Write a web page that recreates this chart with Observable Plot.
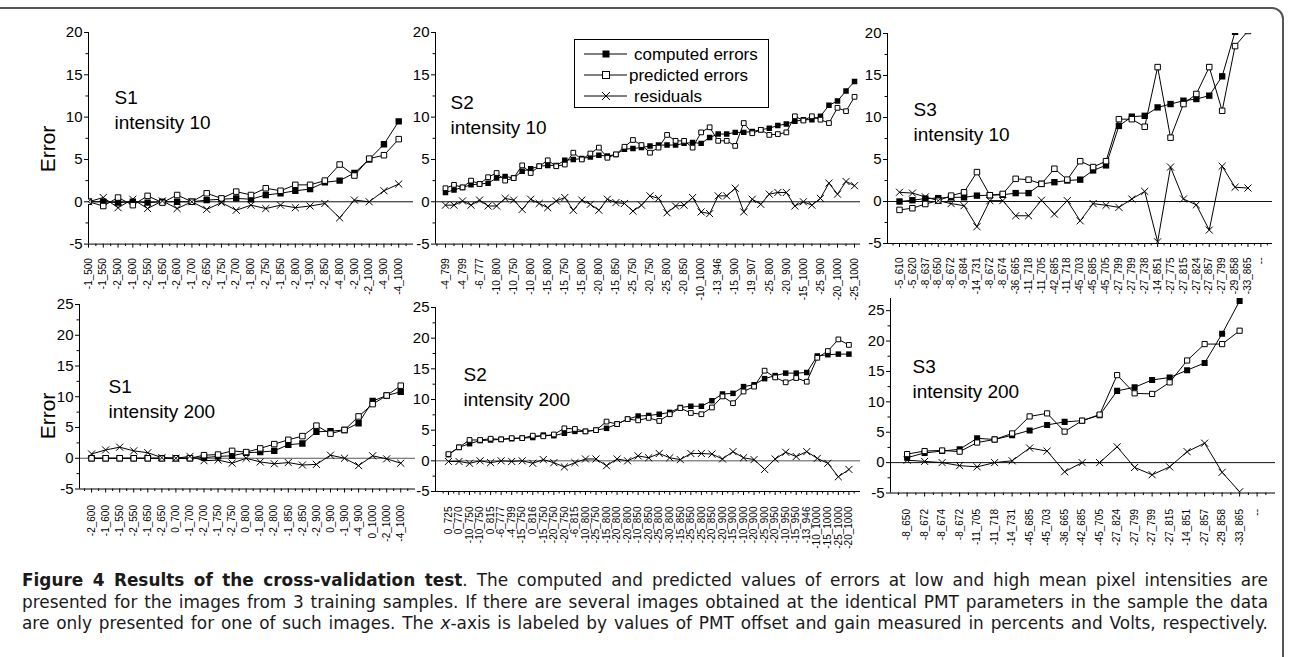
<!DOCTYPE html>
<html><head><meta charset="utf-8">
<script src="https://cdn.jsdelivr.net/npm/d3@7"></script>
<script src="https://cdn.jsdelivr.net/npm/@observablehq/plot@0.6"></script>
<style>
html,body{margin:0;padding:0;background:#fff;}
#fig{position:relative;width:1290px;height:657px;overflow:hidden;font-family:"Liberation Sans",Arial,sans-serif;}
.panel{position:absolute;}
#border{position:absolute;left:-12px;top:7px;width:1296px;height:700px;border:2px solid #555;border-radius:12px;box-sizing:border-box;}
.ytitle{position:absolute;font-size:21px;transform:translate(-50%,-50%) rotate(-90deg);white-space:nowrap;}
#caption{position:absolute;left:22px;top:570px;width:1246px;font-family:"DejaVu Sans",sans-serif;font-size:16.9px;line-height:21.5px;color:#1a1a1a;}
#caption .ln{white-space:nowrap;text-align:justify;text-align-last:justify;}
#caption b{font-weight:700;}
</style></head><body><div id="fig"><div id="border"></div></div>
<script>
// ---------- DATA ----------
const s1_10_labels = ["-1_500","-1_550","-2_500","-1_600","-2_550","-1_650","-2_600","-1_700","-2_650","-1_750","-2_700","-1_800","-2_750","-1_850","-2_800","-1_900","-2_850","-4_800","-2_900","-2_1000","-4_900","-4_1000"];
const s1_10_computed  = [0, 0, -0.1, 0, -0.1, 0, 0, 0, 0.2, 0.3, 0.4, 0.3, 0.8, 1.0, 1.3, 1.5, 2.3, 2.5, 3.4, 5.0, 6.8, 9.5];
const s1_10_predicted = [0, -0.5, 0.5, -0.4, 0.7, -0.1, 0.8, 0, 1.0, 0.4, 1.2, 0.8, 1.6, 1.3, 2.0, 2.0, 2.5, 4.4, 3.1, 5.1, 5.5, 7.4];
const s1_10_residuals = [0, 0.5, -0.7, 0.3, -0.8, 0.1, -0.8, 0, -0.9, -0.1, -1.0, -0.4, -0.8, -0.4, -0.7, -0.5, -0.2, -1.9, 0.2, 0, 1.3, 2.1];

const s2_10_labels = ["-4_799","-4_799","-6_777","-10_800","-10_750","-10_800","-15_800","-15_750","-15_800","-20_800","-15_850","-25_750","-20_750","-25_800","-20_850","-10_1000","-13_946","-15_900","-19_907","-25_800","-20_900","-15_1000","-25_900","-20_1000","-25_1000"];
const s2_10_computed  = [1.1, 1.4, 1.7, 2.0, 2.1, 2.2, 2.8, 3.0, 2.8, 3.6, 3.9, 4.2, 4.3, 4.3, 4.9, 5.0, 5.1, 5.3, 5.5, 5.4, 5.6, 6.2, 6.3, 6.4, 6.6, 6.7, 6.7, 6.7, 6.9, 7.0, 6.9, 7.6, 8.0, 8.0, 8.2, 8.2, 8.3, 8.5, 8.7, 9.0, 9.2, 9.5, 9.7, 9.7, 10.1, 11.4, 11.9, 13.1, 14.2];
const s2_10_predicted = [1.6, 2.0, 1.7, 2.5, 2.1, 2.9, 3.4, 2.5, 2.8, 4.3, 3.4, 4.2, 4.9, 4.2, 4.4, 5.8, 5.0, 5.7, 6.4, 5.2, 5.6, 6.5, 7.3, 6.7, 5.8, 6.4, 7.9, 7.2, 7.2, 6.4, 8.2, 8.8, 7.2, 7.2, 6.6, 9.3, 8.1, 8.5, 7.9, 8.0, 8.2, 10.1, 9.6, 10.1, 9.7, 9.3, 11.1, 10.7, 12.4];
const s2_10_residuals = [-0.4, -0.4, 0.1, -0.4, 0.2, -0.5, -0.5, 0.4, 0.2, -0.9, 0.3, -0.2, -0.7, 0.1, 0.5, -1.0, 0.2, -0.3, -1.0, 0.3, -0.1, -0.2, -1.1, -0.4, 0.7, 0.4, -1.3, -0.5, -0.4, 0.5, -1.2, -1.4, 0.7, 0.7, 1.6, -1.2, 0.3, -0.3, 0.9, 1.1, 1.1, -0.5, 0, -0.4, 0.4, 2.2, 0.9, 2.4, 1.9];

const s3_10_labels = ["-5_610","-5_620","-8_637","-8_650","-8_672","-9_684","-14_731","-8_672","-8_674","-36_665","-11_718","-11_705","-42_685","-11_718","-45_703","-45_685","-45_705","-27_799","-27_799","-27_738","-14_851","-27_775","-27_815","-27_824","-27_857","-27_799","-29_858","-33_865","--"];
const s3_10_computed  = [0, 0.15, 0.35, 0.4, 0.5, 0.5, 0.7, 0.75, 0.8, 1.0, 1.0, 2.1, 2.3, 2.5, 2.6, 3.7, 4.3, 9.0, 10.1, 10.2, 11.2, 11.6, 12.0, 12.2, 12.6, 14.9, 20.2, 21.9];
const s3_10_predicted = [-1.0, -0.8, -0.3, 0.1, 0.7, 1.1, 3.5, 0.75, 0.9, 2.7, 2.6, 2.1, 3.9, 2.6, 4.8, 4.1, 4.8, 9.8, 9.8, 8.9, 16.0, 7.6, 11.6, 12.8, 16.0, 10.8, 18.5, 20.3];
const s3_10_residuals = [1.1, 1.0, 0.55, 0.1, -0.25, -0.5, -3.0, 0.1, 0.1, -1.7, -1.7, 0.15, -1.5, 0.1, -2.3, -0.25, -0.45, -0.7, 0.3, 1.2, -4.8, 4.1, 0.3, -0.4, -3.4, 4.2, 1.7, 1.6];

const s1_200_labels = ["-2_600","-1_600","-1_550","-2_550","-1_650","-2_650","0_700","-1_700","-2_700","-1_750","-2_750","0_800","-1_800","-2_800","-1_850","-2_850","-2_900","0_900","-1_900","-4_900","0_1000","-2_1000","-4_1000"];
const s1_200_computed  = [0, 0, 0, 0, 0, 0, 0, 0, 0.1, 0.3, 0.4, 0.9, 1.0, 1.2, 2.2, 2.4, 4.3, 4.4, 4.6, 5.7, 9.3, 10.2, 10.8];
const s1_200_predicted = [0, 0, 0, 0, 0, 0, 0, 0, 0.5, 0.6, 1.2, 1.0, 1.6, 2.3, 3.0, 3.6, 5.3, 4.0, 4.6, 6.8, 8.8, 10.2, 11.8];
const s1_200_residuals = [0.7, 1.35, 1.8, 1.2, 0.9, 0.1, 0, 0.3, -0.4, -0.3, -0.8, 0, -0.6, -0.9, -0.7, -1.1, -1.0, 0.5, 0, -1.2, 0.4, -0.1, -0.8];

const s2_200_labels = ["0_725","0_770","-10_750","-10_750","0_815","-6_777","-4_799","-15_750","0_816","-15_750","-20_750","-20_750","-6_815","-10_800","-25_750","-15_800","-20_800","-20_800","-10_850","-20_850","-25_800","-30_800","-15_850","-25_850","-25_800","-20_850","-20_900","-15_900","-10_900","-20_900","-25_900","-20_950","-10_950","-15_950","-13_946","-10_1000","-15_1000","-25_1000","-20_1000"];
const s2_200_computed  = [1.0, 2.2, 2.8, 3.3, 3.4, 3.5, 3.6, 3.7, 3.8, 4.2, 4.1, 4.5, 4.8, 4.8, 5.0, 5.3, 6.0, 6.8, 7.3, 7.4, 7.6, 7.9, 8.7, 8.9, 8.9, 9.8, 10.9, 11.0, 12.1, 12.4, 13.4, 13.9, 14.3, 14.3, 14.4, 17.1, 17.3, 17.4, 17.4];
const s2_200_predicted = [1.1, 2.2, 3.4, 3.4, 3.6, 3.5, 3.7, 3.7, 4.1, 4.0, 4.3, 5.3, 5.2, 4.8, 5.0, 6.4, 6.0, 6.8, 6.6, 7.0, 6.5, 7.6, 8.6, 7.8, 7.6, 8.7, 10.5, 9.4, 11.3, 12.1, 14.7, 13.6, 12.8, 13.5, 12.9, 16.8, 17.9, 19.8, 18.9];
const s2_200_residuals = [-0.1, -0.1, -0.4, 0, -0.3, 0, -0.1, 0, -0.4, 0.2, -0.3, -1.0, -0.3, 0.3, 0.3, -0.8, 0.3, 0, 0.8, 0.5, 1.2, 0.5, 0.2, 1.2, 1.2, 1.1, 0.3, 1.5, 0.5, 0.2, -1.4, 0.3, 1.4, 0.7, 1.5, 0.4, -0.4, -2.6, -1.4];

const s3_200_labels = ["-8_650","-8_672","-8_674","-8_672","-11_705","-11_718","-14_731","-45_685","-45_703","-36_665","-42_685","-45_705","-27_824","-27_799","-27_799","-27_815","-14_851","-27_857","-29_858","-33_865","--"];
const s3_200_computed  = [0.8, 1.6, 1.9, 2.2, 4.0, 3.8, 4.5, 5.3, 6.2, 6.7, 6.9, 7.8, 11.8, 12.4, 13.6, 14.0, 15.2, 16.4, 21.2, 26.6];
const s3_200_predicted = [1.4, 1.9, 2.0, 1.8, 3.3, 3.8, 4.8, 7.6, 8.1, 5.1, 6.9, 7.9, 14.4, 11.4, 11.3, 13.2, 16.8, 19.5, 19.5, 21.7];
const s3_200_residuals = [0.4, 0.2, 0, -0.5, -0.7, 0, 0.3, 2.4, 1.9, -1.5, 0, 0, 2.6, -0.8, -2.0, -0.7, 1.8, 3.2, -1.6, -4.8];

const seriesNames = ["computed errors", "predicted errors", "residuals"];
const yTitle = "Error";
const captionLines = [
  "<b>Figure 4 Results of the cross-validation test</b>. The computed and predicted values of errors at low and high mean pixel intensities are",
  "presented for the images from 3 training samples. If there are several images obtained at the identical PMT parameters in the sample the data",
  "are only presented for one of such images. The <i>x</i>-axis is labeled by values of PMT offset and gain measured in percents and Volts, respectively."
];

// ---------- LAYOUT ----------
const FONT = "'Liberation Sans', Arial, sans-serif";
const panels = [
  {title: "S1\nintensity 10", labels: s1_10_labels, c: s1_10_computed, p: s1_10_predicted, r: s1_10_residuals, step: 1,
   frame: [88, 413, 31.7, 243.3], xd: [0, 22], yd: [-5, 20], sq: 3.6, tx: [26, 53], pad: 10, zero: "#111"},
  {title: "S2\nintensity 10", labels: s2_10_labels, c: s2_10_computed, p: s2_10_predicted, r: s2_10_residuals, step: 2,
   frame: [435, 860, 31.7, 243.3], xd: [-1.17, 48.7], yd: [-5, 20], sq: 3.1, tx: [15, 58], pad: 10, zero: "#111"},
  {title: "S3\nintensity 10", labels: s3_10_labels, c: s3_10_computed, p: s3_10_predicted, r: s3_10_residuals, step: 1,
   frame: [887, 1272, 32.5, 242.5], xd: [-0.93, 28.9], yd: [-5, 20], sq: 3.6, tx: [26, 64], pad: 10, zero: "#111"},
  {title: "S1\nintensity 200", labels: s1_200_labels, c: s1_200_computed, p: s1_200_predicted, r: s1_200_residuals, step: 1,
   frame: [79, 415, 304.3, 488.8], xd: [-0.86, 23.05], yd: [-5, 25], sq: 3.6, tx: [29, 70], pad: 12, zero: "#555"},
  {title: "S2\nintensity 200", labels: s2_200_labels, c: s2_200_computed, p: s2_200_predicted, r: s2_200_residuals, step: 1,
   frame: [435, 860, 306.7, 490.7], xd: [-1.23, 39.1], yd: [-5, 25], sq: 3.1, tx: [28, 55], pad: 11, zero: "#555"},
  {title: "S3\nintensity 200", labels: s3_200_labels, c: s3_200_computed, p: s3_200_predicted, r: s3_200_residuals, step: 1,
   frame: [890, 1275, 298, 492.5], xd: [-0.95, 21.05], yd: [-5, 27], sq: 3.4, tx: [22, 56], pad: 12, zero: "#111"}
];

const fig = document.getElementById("fig");

function drawPanel(P) {
  const [x0, x1, y0, y1] = P.frame;
  const ml = 70, mr = 20, mt = 20, mb = 80;
  const W = x1 - x0, H = y1 - y0;
  const rows = P.c.map((c, i) => ({i, c, p: P.p[i], r: P.r[i]}));
  const majors = P.labels.map((_, k) => k * P.step);
  const minors = [];
  for (let m = majors[0] - P.step / 2; m <= P.xd[1] + 1e-9; m += P.step) if (m >= P.xd[0]) minors.push(m);
  const yMaj = d3.range(P.yd[0], P.yd[1] + 0.001, 5);
  const yMin = yMaj.map(v => v + 2.5).filter(v => v <= P.yd[1]);
  const lineOpt = {stroke: "#000", strokeWidth: 1, clip: true};
  const svg = Plot.plot({
    width: W + ml + mr, height: H + mt + mb,
    marginLeft: ml, marginRight: mr, marginTop: mt, marginBottom: mb,
    style: {background: "transparent", overflow: "visible", fontFamily: FONT, color: "#000", maxWidth: "none"},
    x: {domain: P.xd},
    y: {domain: P.yd},
    marks: [
      Plot.ruleY([0], {stroke: P.zero, strokeWidth: 1}),
      Plot.ruleX([P.xd[0]], {stroke: "#000", strokeWidth: 1}),
      Plot.ruleY([P.yd[0]], {stroke: "#000", strokeWidth: 1}),
      Plot.axisY(yMaj, {anchor: "left", tickSize: 4, tickPadding: 2, fontSize: 15, label: null, tickFormat: d => String(d)}),
      Plot.axisY(yMin, {anchor: "left", tickSize: 2.5, tickFormat: () => "", label: null}),
      Plot.axisX(majors, {anchor: "bottom", tickSize: 4, tickPadding: P.pad, tickRotate: -90, fontSize: 10, label: null,
                          tickFormat: d => P.labels[Math.round(d / P.step)]}),
      Plot.axisX(minors, {anchor: "bottom", tickSize: 2.5, tickFormat: () => "", label: null}),
      Plot.line(rows, {x: "i", y: "c", ...lineOpt}),
      Plot.line(rows, {x: "i", y: "p", ...lineOpt}),
      Plot.line(rows, {x: "i", y: "r", ...lineOpt}),
      Plot.dot(rows, {x: "i", y: "c", symbol: "square", fill: "#000", r: P.sq, clip: true}),
      Plot.dot(rows, {x: "i", y: "p", symbol: "square", fill: "#fff", stroke: "#000", strokeWidth: 1, r: P.sq * 0.86, clip: true}),
      Plot.dot(rows, {x: "i", y: "r", symbol: "times", stroke: "#000", fill: "none", strokeWidth: 1, r: 3.3, clip: true}),
      Plot.text([P.title], {text: d => d, frameAnchor: "top-left", dx: P.tx[0], dy: P.tx[1], textAnchor: "start",
                            lineAnchor: "top", fontSize: 19, lineHeight: 1.35, fill: "#000"})
    ]
  });
  const div = document.createElement("div");
  div.className = "panel";
  div.style.left = (x0 - ml) + "px";
  div.style.top = (y0 - mt) + "px";
  div.style.width = (W + ml + mr) + "px";
  div.appendChild(svg);
  fig.appendChild(div);
}
panels.forEach(drawPanel);

// y titles
[[47.5, 149], [47.5, 416]].forEach(([x, y]) => {
  const t = document.createElement("div");
  t.className = "ytitle"; t.textContent = yTitle;
  t.style.left = x + "px"; t.style.top = y + "px";
  fig.appendChild(t);
});

// legend (inside S2 intensity 10 panel)
(function legend() {
  const W = 195, H = 69;
  const svg = d3.create("svg").attr("width", W).attr("height", H)
    .style("position", "absolute").style("left", "574px").style("top", "38.5px").style("overflow", "visible");
  svg.append("rect").attr("x", 0.5).attr("y", 0.5).attr("width", W - 1).attr("height", H - 1)
    .attr("fill", "#fff").attr("stroke", "#000");
  const rowsY = [15, 36, 57];
  const textX = [60, 55, 60];
  seriesNames.forEach((name, k) => {
    const y = rowsY[k];
    svg.append("line").attr("x1", 10).attr("x2", 53).attr("y1", y).attr("y2", y).attr("stroke", "#000");
    if (k === 0) svg.append("rect").attr("x", 28.5).attr("y", y - 3.5).attr("width", 7).attr("height", 7).attr("fill", "#000");
    if (k === 1) svg.append("rect").attr("x", 28.5).attr("y", y - 3.5).attr("width", 7).attr("height", 7).attr("fill", "#fff").attr("stroke", "#000");
    if (k === 2) svg.append("path").attr("d", `M${28},${y - 4}L${36},${y + 4}M${36},${y - 4}L${28},${y + 4}`).attr("stroke", "#000");
    svg.append("text").attr("x", textX[k]).attr("y", y).attr("dy", "0.35em")
      .attr("font-family", FONT).attr("font-size", 17).text(name);
  });
  fig.appendChild(svg.node());
})();

// caption
const cap = document.createElement("div");
cap.id = "caption";
cap.innerHTML = captionLines.map(l => `<div class="ln">${l}</div>`).join("");
fig.appendChild(cap);
</script>
</body></html>
